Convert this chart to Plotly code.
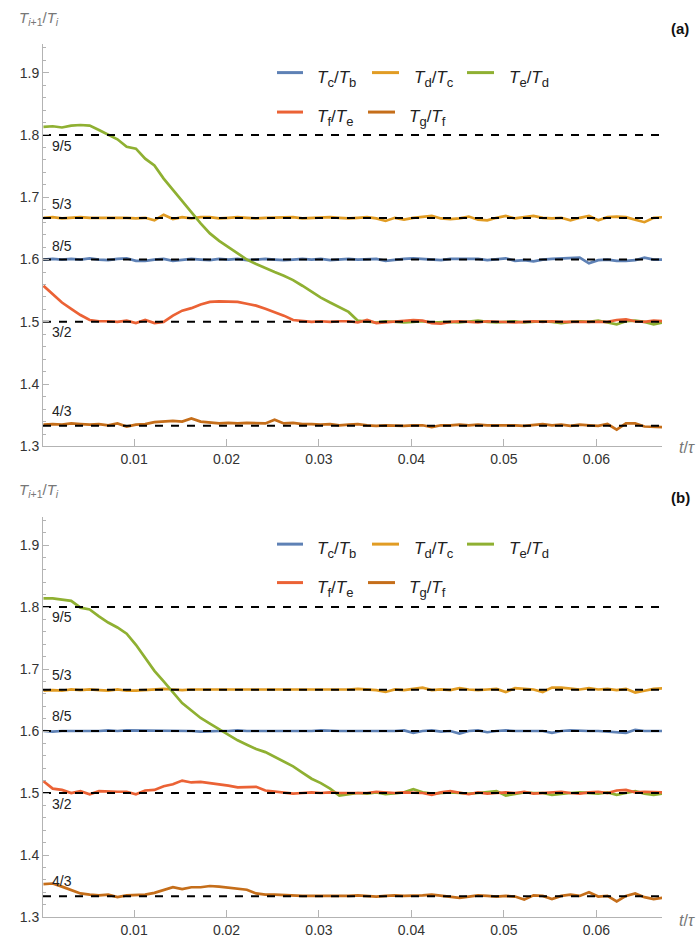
import plotly.graph_objects as go

# ---------------- data ----------------
t = [0.0002, 0.0012, 0.0022, 0.0032, 0.0042, 0.0052, 0.0062, 0.0072, 0.0082, 0.0092,
     0.0102, 0.0112, 0.0122, 0.0132, 0.0142, 0.0152, 0.0162, 0.0172, 0.0182, 0.0192,
     0.0202, 0.0212, 0.0222, 0.0232, 0.0242, 0.0252, 0.0262, 0.0272, 0.0282, 0.0292,
     0.0302, 0.0312, 0.0322, 0.0332, 0.0342, 0.0352, 0.0362, 0.0372, 0.0382, 0.0392,
     0.0402, 0.0412, 0.0422, 0.0432, 0.0442, 0.0452, 0.0462, 0.0472, 0.0482, 0.0492,
     0.0502, 0.0512, 0.0522, 0.0532, 0.0542, 0.0552, 0.0562, 0.0572, 0.0582, 0.0592,
     0.0602, 0.0612, 0.0622, 0.0632, 0.0642, 0.0652, 0.0662, 0.0672]

# panel (a)
blue_a = [1.600, 1.601, 1.600, 1.601, 1.600, 1.602, 1.600, 1.599, 1.601, 1.602,
          1.598, 1.598, 1.600, 1.601, 1.598, 1.599, 1.601, 1.600, 1.599, 1.601,
          1.600, 1.601, 1.599, 1.600, 1.601, 1.600, 1.599, 1.600, 1.601, 1.600,
          1.601, 1.599, 1.600, 1.601, 1.600, 1.600, 1.601, 1.598, 1.600, 1.601,
          1.602, 1.601, 1.600, 1.599, 1.601, 1.601, 1.602, 1.601, 1.599, 1.600,
          1.602, 1.598, 1.599, 1.597, 1.600, 1.601, 1.602, 1.603, 1.603, 1.594,
          1.599, 1.600, 1.598, 1.598, 1.599, 1.603, 1.600, 1.600]
orange_a = [1.667, 1.668, 1.666, 1.667, 1.668, 1.667, 1.667, 1.668, 1.668, 1.667,
            1.666, 1.667, 1.663, 1.672, 1.665, 1.668, 1.666, 1.668, 1.668, 1.666,
            1.667, 1.668, 1.667, 1.666, 1.667, 1.667, 1.667, 1.668, 1.666, 1.667,
            1.667, 1.668, 1.667, 1.666, 1.667, 1.668, 1.666, 1.662, 1.667, 1.664,
            1.667, 1.668, 1.670, 1.666, 1.665, 1.666, 1.669, 1.664, 1.663, 1.667,
            1.670, 1.666, 1.668, 1.670, 1.667, 1.666, 1.667, 1.663, 1.667, 1.670,
            1.663, 1.668, 1.669, 1.668, 1.664, 1.660, 1.667, 1.668]
green_a = [1.813, 1.814, 1.812, 1.815, 1.816, 1.815, 1.808, 1.800, 1.793, 1.781,
           1.778, 1.762, 1.751, 1.730, 1.712, 1.694, 1.677, 1.658, 1.642, 1.630,
           1.620, 1.610, 1.600, 1.593, 1.586, 1.580, 1.574, 1.567, 1.558, 1.548,
           1.539, 1.531, 1.524, 1.516, 1.502, 1.500, 1.499, 1.501, 1.500, 1.499,
           1.500, 1.501, 1.499, 1.500, 1.500, 1.499, 1.501, 1.502, 1.500, 1.499,
           1.500, 1.501, 1.499, 1.500, 1.501, 1.500, 1.498, 1.500, 1.501, 1.500,
           1.502, 1.499, 1.496, 1.501, 1.502, 1.500, 1.496, 1.499]
red_a = [1.558, 1.545, 1.531, 1.521, 1.511, 1.503, 1.501, 1.501, 1.500, 1.502,
         1.498, 1.503, 1.498, 1.500, 1.510, 1.518, 1.522, 1.528, 1.532, 1.533,
         1.533, 1.532, 1.529, 1.526, 1.521, 1.516, 1.510, 1.503, 1.501, 1.500,
         1.501, 1.500, 1.501, 1.501, 1.499, 1.503, 1.498, 1.499, 1.500, 1.501,
         1.503, 1.502, 1.498, 1.497, 1.500, 1.501, 1.500, 1.499, 1.501, 1.500,
         1.500, 1.499, 1.500, 1.501, 1.500, 1.501, 1.500, 1.500, 1.501, 1.500,
         1.501, 1.500, 1.503, 1.504, 1.501, 1.500, 1.502, 1.501]
brown_a = [1.335, 1.336, 1.335, 1.337, 1.336, 1.335, 1.336, 1.334, 1.337, 1.332,
           1.335, 1.336, 1.339, 1.340, 1.341, 1.340, 1.345, 1.340, 1.338, 1.337,
           1.338, 1.337, 1.338, 1.337, 1.337, 1.343, 1.337, 1.338, 1.336, 1.336,
           1.335, 1.336, 1.334, 1.335, 1.336, 1.334, 1.333, 1.334, 1.333, 1.333,
           1.334, 1.334, 1.331, 1.334, 1.334, 1.335, 1.334, 1.335, 1.334, 1.334,
           1.335, 1.334, 1.333, 1.334, 1.336, 1.334, 1.335, 1.333, 1.335, 1.334,
           1.333, 1.336, 1.327, 1.337, 1.337, 1.332, 1.331, 1.331]

# panel (b)
blue_b = [1.600, 1.599, 1.600, 1.600, 1.599, 1.600, 1.600, 1.601, 1.600, 1.601,
          1.601, 1.600, 1.600, 1.600, 1.600, 1.601, 1.600, 1.599, 1.600, 1.600,
          1.600, 1.601, 1.600, 1.600, 1.600, 1.599, 1.600, 1.600, 1.600, 1.600,
          1.601, 1.600, 1.600, 1.600, 1.600, 1.600, 1.599, 1.600, 1.600, 1.601,
          1.597, 1.600, 1.601, 1.599, 1.600, 1.596, 1.600, 1.601, 1.598, 1.600,
          1.601, 1.600, 1.600, 1.601, 1.600, 1.597, 1.600, 1.601, 1.600, 1.600,
          1.600, 1.599, 1.597, 1.597, 1.602, 1.600, 1.600, 1.600]
orange_b = [1.665, 1.666, 1.665, 1.667, 1.666, 1.667, 1.666, 1.665, 1.667, 1.665,
            1.665, 1.666, 1.667, 1.668, 1.667, 1.666, 1.667, 1.667, 1.666, 1.667,
            1.667, 1.666, 1.667, 1.667, 1.666, 1.667, 1.667, 1.666, 1.667, 1.667,
            1.667, 1.666, 1.667, 1.667, 1.668, 1.667, 1.666, 1.663, 1.667, 1.666,
            1.668, 1.670, 1.666, 1.667, 1.666, 1.669, 1.667, 1.666, 1.667, 1.668,
            1.663, 1.669, 1.668, 1.667, 1.663, 1.670, 1.670, 1.668, 1.667, 1.669,
            1.667, 1.668, 1.666, 1.668, 1.662, 1.665, 1.668, 1.669]
green_b = [1.814, 1.814, 1.812, 1.810, 1.799, 1.796, 1.785, 1.775, 1.767, 1.757,
           1.739, 1.717, 1.697, 1.680, 1.663, 1.645, 1.633, 1.621, 1.612, 1.603,
           1.594, 1.585, 1.578, 1.571, 1.566, 1.558, 1.550, 1.543, 1.533, 1.523,
           1.516, 1.507, 1.496, 1.498, 1.500, 1.499, 1.501, 1.498, 1.500, 1.501,
           1.506, 1.501, 1.499, 1.500, 1.501, 1.500, 1.499, 1.500, 1.501, 1.503,
           1.496, 1.499, 1.501, 1.500, 1.500, 1.497, 1.499, 1.500, 1.501, 1.500,
           1.499, 1.501, 1.497, 1.500, 1.503, 1.499, 1.497, 1.499]
red_b = [1.519, 1.507, 1.505, 1.500, 1.503, 1.498, 1.503, 1.502, 1.502, 1.502,
         1.498, 1.504, 1.505, 1.511, 1.514, 1.520, 1.517, 1.518, 1.516, 1.515,
         1.512, 1.509, 1.509, 1.510, 1.504, 1.502, 1.500, 1.499, 1.500, 1.501,
         1.500, 1.501, 1.500, 1.500, 1.501, 1.500, 1.502, 1.501, 1.500, 1.501,
         1.500, 1.500, 1.497, 1.501, 1.503, 1.500, 1.498, 1.501, 1.499, 1.500,
         1.501, 1.500, 1.502, 1.499, 1.500, 1.501, 1.502, 1.500, 1.499, 1.501,
         1.502, 1.500, 1.504, 1.505, 1.501, 1.502, 1.502, 1.501]
brown_b = [1.353, 1.354, 1.349, 1.343, 1.338, 1.336, 1.335, 1.336, 1.332, 1.335,
           1.336, 1.336, 1.339, 1.343, 1.348, 1.345, 1.348, 1.348, 1.350, 1.349,
           1.347, 1.346, 1.344, 1.338, 1.336, 1.336, 1.335, 1.335, 1.334, 1.334,
           1.334, 1.333, 1.334, 1.334, 1.335, 1.334, 1.333, 1.334, 1.335, 1.334,
           1.334, 1.335, 1.336, 1.334, 1.333, 1.331, 1.333, 1.335, 1.334, 1.333,
           1.334, 1.333, 1.328, 1.335, 1.334, 1.329, 1.334, 1.336, 1.334, 1.340,
           1.333, 1.334, 1.325, 1.334, 1.338, 1.332, 1.329, 1.331]

ref_values = [9 / 5, 5 / 3, 8 / 5, 3 / 2, 4 / 3]
ref_labels = ["9/5", "5/3", "8/5", "3/2", "4/3"]
x_ticks = [0.01, 0.02, 0.03, 0.04, 0.05, 0.06]
x_ticktext = ["0.01", "0.02", "0.03", "0.04", "0.05", "0.06"]
y_ticks = [1.3, 1.4, 1.5, 1.6, 1.7, 1.8, 1.9]
y_ticktext = ["1.3", "1.4", "1.5", "1.6", "1.7", "1.8", "1.9"]
SUB = '<sub><span style="font-size:13px">%s</span></sub>'
series_names = ["<i>T</i>" + SUB % "c" + "/<i>T</i>" + SUB % "b",
                "<i>T</i>" + SUB % "d" + "/<i>T</i>" + SUB % "c",
                "<i>T</i>" + SUB % "e" + "/<i>T</i>" + SUB % "d",
                "<i>T</i>" + SUB % "f" + "/<i>T</i>" + SUB % "e",
                "<i>T</i>" + SUB % "g" + "/<i>T</i>" + SUB % "f"]
colors = ["#5E81B5", "#E19C24", "#8FB032", "#EB6235", "#C56E1A"]

X_RANGE = [0.00015, 0.0671]
Y_RANGE = [1.3, 1.946]

# ---------------- figure ----------------
W, H = 699, 950
ML, MR, MT, MB = 43, 37, 44, 21
PW = W - ML - MR
PH = H - MT - MB


def px_x(px):
    return (px - ML) / PW


def px_y(py):
    return (H - MB - py) / PH


fig = go.Figure()

panels = [
    ("x", "y", [blue_a, orange_a, green_a, red_a, brown_a]),
    ("x2", "y2", [blue_b, orange_b, green_b, red_b, brown_b]),
]

for xa, ya, series in panels:
    for vals, col, name in zip(series, colors, series_names):
        fig.add_trace(go.Scatter(x=t, y=vals, mode="lines", xaxis=xa, yaxis=ya,
                                 line=dict(color=col, width=2.7), name=name,
                                 showlegend=False, hoverinfo="skip"))
    for v in ref_values:
        fig.add_trace(go.Scatter(x=X_RANGE, y=[v, v], mode="lines", xaxis=xa, yaxis=ya,
                                 line=dict(color="black", width=2, dash="8px,8px"),
                                 showlegend=False, hoverinfo="skip"))

axis_gray = "#b3b3b3"
tick_font = dict(family="Liberation Sans, Arial, sans-serif", size=14, color="#333333")

common_x = dict(range=X_RANGE, tickvals=x_ticks, ticktext=x_ticktext, ticks="inside",
                ticklen=7, tickcolor=axis_gray, showline=True, linecolor=axis_gray,
                linewidth=1, showgrid=False, zeroline=False, tickfont=tick_font)
common_y = dict(range=Y_RANGE, tickvals=y_ticks, ticktext=y_ticktext, ticks="inside",
                ticklen=6, tickcolor=axis_gray, showline=True, linecolor=axis_gray,
                linewidth=1, showgrid=False, zeroline=False, tickfont=tick_font,
                minor=dict(ticks="inside", ticklen=3, dtick=0.02, tick0=1.3,
                           tickcolor=axis_gray, showgrid=False))

dom_a = [px_y(452), 1.0]
dom_b = [0.0, px_y(523)]

fig.update_layout(
    width=W, height=H,
    margin=dict(l=ML, r=MR, t=MT, b=MB),
    paper_bgcolor="white", plot_bgcolor="white",
    font=dict(family="Liberation Sans, Arial, sans-serif", color="#222222"),
    xaxis=dict(anchor="y", domain=[0, 1], **common_x),
    yaxis=dict(anchor="x", domain=dom_a, **common_y),
    xaxis2=dict(anchor="y2", domain=[0, 1], **common_x),
    yaxis2=dict(anchor="x2", domain=dom_b, **common_y),
)

annotations = []
shapes = []

label_shift_a = [-11, 14, 14, -10, 15]
label_shift_b = [-10, 15, 15, -11, 15]

panel_info = [
    ("x", "y", label_shift_a, 0, "(a)", 453),
    ("x2", "y2", label_shift_b, 523 - 44, "(b)", 933),
]

for xa, ya, shifts, off, tag, ty in panel_info:
    # fraction labels
    for v, lab, s in zip(ref_values, ref_labels, shifts):
        annotations.append(dict(x=0.0009, y=v, xref=xa, yref=ya, text=lab,
                                showarrow=False, xanchor="left", yanchor="middle",
                                yshift=s, font=dict(size=14, color="#222222")))
    # y axis title
    annotations.append(dict(x=px_x(17), y=px_y(18 + off), xref="paper", yref="paper",
                            text="<i>T</i><sub><i>i</i>+1</sub>/<i>T</i><sub><i>i</i></sub>",
                            showarrow=False, xanchor="left", yanchor="middle",
                            font=dict(size=15, color="#777777")))
    # x axis title
    annotations.append(dict(x=px_x(677), y=px_y(ty), xref="paper", yref="paper",
                            text="<i>t</i>/<i>τ</i>", showarrow=False,
                            xanchor="left", yanchor="middle",
                            font=dict(size=16, color="#777777")))
    # panel tag
    annotations.append(dict(x=px_x(680), y=px_y(28 + off - 3 * (1 if off else 0)), xref="paper", yref="paper",
                            text="<b>" + tag + "</b>", showarrow=False,
                            xanchor="center", yanchor="middle",
                            font=dict(size=15, color="#111111")))
    # legend (manual)
    rows = [
        [(0, 277, 303, 315), (1, 372, 399, 412), (2, 467, 494, 507)],
        [(3, 277, 303, 315), (4, 368, 395, 407)],
    ]
    row_y = [73, 113] if off == 0 else [551, 590]
    for r, items in enumerate(rows):
        yl = row_y[r]
        for idx, x0, x1, xt in items:
            shapes.append(dict(type="line", xref="paper", yref="paper",
                               x0=px_x(x0), x1=px_x(x1), y0=px_y(yl), y1=px_y(yl),
                               line=dict(color=colors[idx], width=3)))
            annotations.append(dict(x=px_x(xt), y=px_y(yl + 6), xref="paper", yref="paper",
                                    text=series_names[idx], showarrow=False,
                                    xanchor="left", yanchor="middle",
                                    font=dict(size=17, color="#222222")))

fig.update_layout(annotations=annotations, shapes=shapes)

fig.write_html("out.html", config={"displayModeBar": False},
               post_script="document.body.style.margin='0';")
